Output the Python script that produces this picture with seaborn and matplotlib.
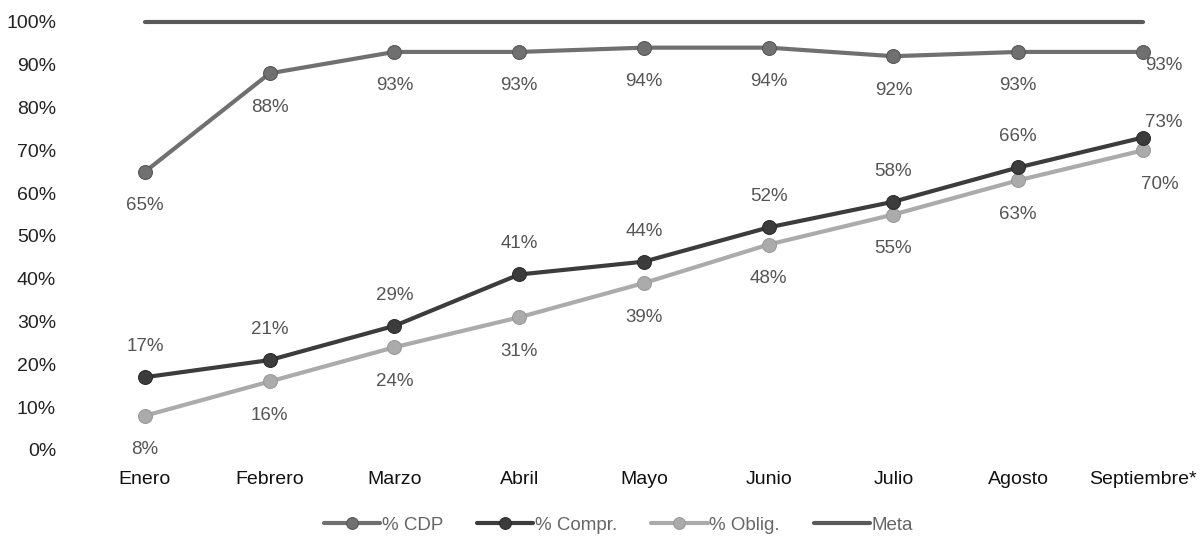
import pandas as pd
import numpy as np
import matplotlib
matplotlib.use('Agg')
import matplotlib.pyplot as plt
import seaborn as sns

# ─── Data ────────────────────────────────────────────────────────────────────
MESES  = ['Enero', 'Febrero', 'Marzo', 'Abril', 'Mayo',
          'Junio', 'Julio', 'Agosto', 'Septiembre*']
CDP    = [65, 88, 93, 93, 94, 94, 92, 93, 93]
COMPR  = [17, 21, 29, 41, 44, 52, 58, 66, 73]
OBLIG  = [8, 16, 24, 31, 39, 48, 55, 63, 70]
META   = [100] * len(MESES)
Y_TICKS = [0, 10, 20, 30, 40, 50, 60, 70, 80, 90, 100]

sns.set_style('white')
plt.rcParams['font.family'] = ['Liberation Sans', 'DejaVu Sans']

df = pd.DataFrame({'x': np.arange(len(MESES)), 'cdp': CDP, 'compr': COMPR,
                   'oblig': OBLIG, 'meta': META})

fig = plt.figure(figsize=(12, 5.37), dpi=100)
ax = fig.add_axes([0.0583, 0.1434, 0.9333, 0.838])

c_cdp, c_compr, c_oblig, c_meta = '#707070', '#3c3c3c', '#ababab', '#5a5a5a'

sns.lineplot(data=df, x='x', y='meta', ax=ax, color=c_meta, lw=3, label='Meta', zorder=2)
sns.lineplot(data=df, x='x', y='cdp', ax=ax, color=c_cdp, lw=3, marker='o',
             markersize=10, markeredgecolor='#555555', label='% CDP', zorder=3)
sns.lineplot(data=df, x='x', y='oblig', ax=ax, color=c_oblig, lw=3, marker='o',
             markersize=10, markeredgecolor='#999999', label='% Oblig.', zorder=3)
sns.lineplot(data=df, x='x', y='compr', ax=ax, color=c_compr, lw=3, marker='o',
             markersize=10, markeredgecolor='#2a2a2a', label='% Compr.', zorder=4)

# ─── Data labels (offsets in points) ─────────────────────────────────────────
lab_kw = dict(ha='center', va='center', fontsize=13.5, color='#555555',
              textcoords='offset points')
last = len(MESES) - 1
for i in range(len(MESES)):
    if i == last:
        o_cdp, o_compr, o_oblig = (15, -9.5), (15, 11), (12, -24.5)
    else:
        o_cdp, o_compr, o_oblig = (0, -24.5), (0, 22), (0, -24.5)
    ax.annotate(f'{CDP[i]}%', (i, CDP[i]), xytext=o_cdp, **lab_kw)
    ax.annotate(f'{COMPR[i]}%', (i, COMPR[i]), xytext=o_compr, **lab_kw)
    ax.annotate(f'{OBLIG[i]}%', (i, OBLIG[i]), xytext=o_oblig, **lab_kw)

ax.set_xlim(-0.601, 8.377)
ax.set_ylim(-2.34, 102.8)
ax.set_yticks(Y_TICKS)
ax.set_yticklabels([f'{t}%' for t in Y_TICKS], fontsize=14, color='#222222')
ax.set_xticks(np.arange(len(MESES)))
ax.set_xticklabels(MESES, fontsize=14, color='#111111')
ax.tick_params(axis='both', length=0)
ax.tick_params(axis='x', pad=8)
ax.tick_params(axis='y', pad=10)
ax.set_xlabel('')
ax.set_ylabel('')
for s in ax.spines.values():
    s.set_visible(False)

handles, labels = ax.get_legend_handles_labels()
order = [labels.index(l) for l in ['% CDP', '% Compr.', '% Oblig.', 'Meta']]
ax.legend([handles[i] for i in order], [labels[i] for i in order],
          loc='center', bbox_to_anchor=(0.49, -0.145), ncol=4, frameon=False,
          fontsize=13.5, labelcolor='#666666', handlelength=3.0, handletextpad=0.1,
          columnspacing=1.8, markerscale=0.85)

fig.savefig('out.png', dpi=100)
